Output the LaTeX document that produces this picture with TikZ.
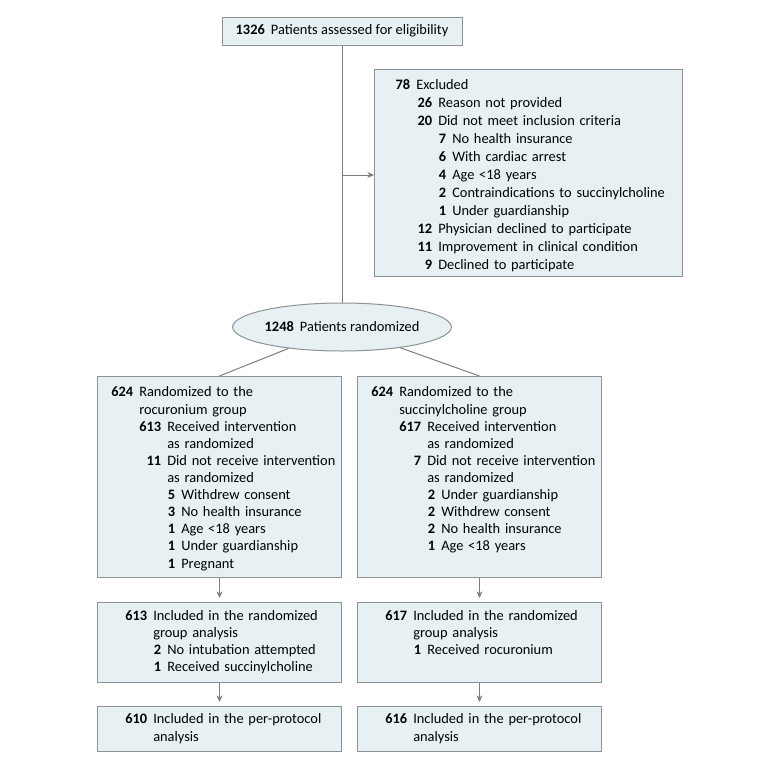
\documentclass[tikz,border=0pt]{standalone}
\usepackage{fontspec}
\setmainfont{Carlito}
\usetikzlibrary{shapes.geometric,arrows.meta}

\definecolor{boxfill}{RGB}{231,241,244}
\definecolor{boxline}{RGB}{140,146,150}
\definecolor{linkgray}{RGB}{125,125,125}

\newdimen\pxu \pxu=0.75pt
% one line of a box: where the text starts, bold count, text
\newcommand{\cnt}[3]{\hspace*{#1\pxu}\llap{\textbf{#2}\hspace{6\pxu}}#3}

\begin{document}
\begin{tikzpicture}[x=0.75pt, y=-0.75pt,
    box/.style={rectangle, draw=boxline, fill=boxfill, line width=0.75pt, inner sep=0pt, anchor=north west},
    txt/.style={anchor=north west, inner sep=0pt, align=left, text width=240\pxu, font=\fontsize{10.8pt}{12.83pt}\selectfont},
    link/.style={draw=linkgray, line width=0.75pt},
    arrow/.style={link, -{Stealth[length=5pt, width=4.5pt]}},
    font=\fontsize{10.8pt}{13pt}\selectfont
]
\useasboundingbox (0,0) rectangle (780,764);

% Enrollment
\node[box, anchor=center, minimum width=240\pxu, minimum height=28\pxu] (top) at (342,31) {\textbf{1326}\hspace{6\pxu}Patients assessed for eligibility};

\node[box, minimum width=308\pxu, minimum height=207\pxu] (excl) at (374,69) {};
\node[txt, text width=300\pxu, font=\fontsize{10.8pt}{13.5pt}\selectfont] (exclT) at (374,76.4) {\strut
\cnt{42}{78}{Excluded}\\
\cnt{64}{26}{Reason not provided}\\
\cnt{64}{20}{Did not meet inclusion criteria}\\
\cnt{78}{7}{No health insurance}\\
\cnt{78}{6}{With cardiac arrest}\\
\cnt{78}{4}{Age <18 years}\\
\cnt{78}{2}{Contraindications to succinylcholine}\\
\cnt{78}{1}{Under guardianship}\\
\cnt{64}{12}{Physician declined to participate}\\
\cnt{64}{11}{Improvement in clinical condition}\\
\cnt{64}{9}{Declined to participate}};

\node[ellipse, draw=boxline, fill=boxfill, line width=0.75pt, inner sep=0pt, minimum width=189\pxu, minimum height=48\pxu] (rand) at (342,327) {\textbf{1248}\hspace{6\pxu}Patients randomized};

% Allocation
\node[box, minimum width=244\pxu, minimum height=201\pxu] (rocA) at (97,376) {};
\node[txt] (rocAT) at (97,384.7) {\strut
\cnt{42}{624}{Randomized to the}\\
\cnt{42}{}{rocuronium group}\\
\cnt{70}{613}{Received intervention}\\
\cnt{70}{}{as randomized}\\
\cnt{70}{11}{Did not receive intervention}\\
\cnt{70}{}{as randomized}\\
\cnt{84}{5}{Withdrew consent}\\
\cnt{84}{3}{No health insurance}\\
\cnt{84}{1}{Age <18 years}\\
\cnt{84}{1}{Under guardianship}\\
\cnt{84}{1}{Pregnant}};

\node[box, minimum width=244\pxu, minimum height=201\pxu] (sucA) at (357,376) {};
\node[txt] (sucAT) at (357,384.7) {\strut
\cnt{42}{624}{Randomized to the}\\
\cnt{42}{}{succinylcholine group}\\
\cnt{70}{617}{Received intervention}\\
\cnt{70}{}{as randomized}\\
\cnt{70}{7}{Did not receive intervention}\\
\cnt{70}{}{as randomized}\\
\cnt{84}{2}{Under guardianship}\\
\cnt{84}{2}{Withdrew consent}\\
\cnt{84}{2}{No health insurance}\\
\cnt{84}{1}{Age <18 years}};

% Analysis
\node[box, minimum width=244\pxu, minimum height=80\pxu] (rocB) at (97,602) {};
\node[txt] (rocBT) at (97,608.3) {\strut
\cnt{56}{613}{Included in the randomized}\\
\cnt{56}{}{group analysis}\\
\cnt{70}{2}{No intubation attempted}\\
\cnt{70}{1}{Received succinylcholine}};

\node[box, minimum width=244\pxu, minimum height=80\pxu] (sucB) at (357,602) {};
\node[txt] (sucBT) at (357,608.3) {\strut
\cnt{56}{617}{Included in the randomized}\\
\cnt{56}{}{group analysis}\\
\cnt{70}{1}{Received rocuronium}};

\node[box, minimum width=244\pxu, minimum height=45\pxu] (rocC) at (97,706) {};
\node[txt] (rocCT) at (97,711.7) {\strut
\cnt{56}{610}{Included in the per-protocol}\\
\cnt{56}{}{analysis}};

\node[box, minimum width=244\pxu, minimum height=45\pxu] (sucC) at (357,706) {};
\node[txt] (sucCT) at (357,711.7) {\strut
\cnt{56}{616}{Included in the per-protocol}\\
\cnt{56}{}{analysis}};

% Connectors
\coordinate (branch) at (342,175);
\draw[link] (top) -- (rand);
\draw[arrow] (branch) -- (branch -| excl.west);
\draw[link] (rand) -- (rocA.north);
\draw[link] (rand) -- (sucA.north);
\draw[arrow, shorten >=3pt] (rocA) -- (rocB);
\draw[arrow, shorten >=3pt] (sucA) -- (sucB);
\draw[arrow, shorten >=3pt] (rocB) -- (rocC);
\draw[arrow, shorten >=3pt] (sucB) -- (sucC);

\end{tikzpicture}
\end{document}
